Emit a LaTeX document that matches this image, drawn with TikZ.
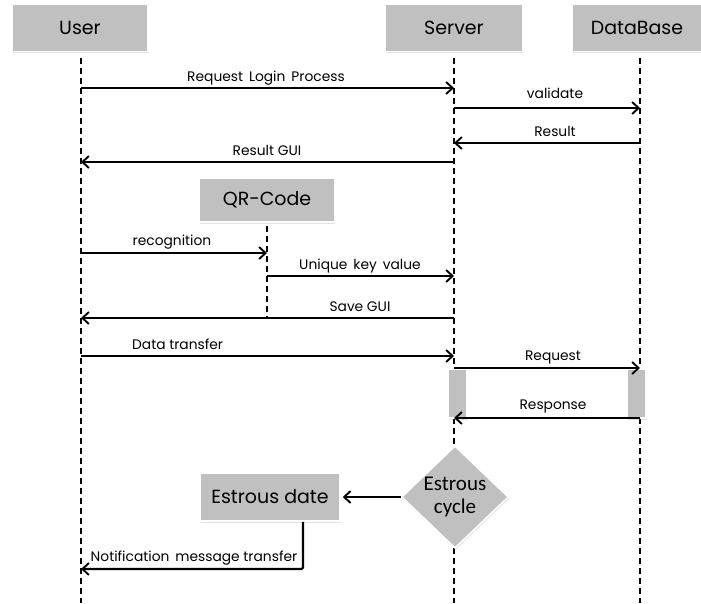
\documentclass[tikz,border=0pt]{standalone}
\usepackage{fontspec}
\setmainfont{Poppins}
\newfontfamily\calfont{Carlito}
\usetikzlibrary{arrows.meta,shapes.geometric,shadows}
\definecolor{boxgray}{RGB}{192,192,192}
\begin{document}
\begin{tikzpicture}[x=1pt,y=-1pt,
  shade box/.style={fill=boxgray, draw=white, line width=1.5pt,
    drop shadow={opacity=0.22,shadow xshift=0.8pt,shadow yshift=-1.6pt}},
  actor/.style={shade box, minimum height=47pt, inner sep=0,
    font=\fontsize{19}{21}\selectfont},
  actbar/.style={shade box, minimum width=19pt, minimum height=49pt, inner sep=0},
  life/.style={dash pattern=on 6pt off 4pt, line width=1.1pt},
  msg/.style={line width=2.1pt,
    -{Straight Barb[length=6.5pt,width=12pt,line width=1.9pt]}},
  lbl/.style={anchor=base, inner sep=0, font=\fontsize{13.8}{16}\selectfont}]
\useasboundingbox (0,0) rectangle (701,603);
\fill[white] (0,0) rectangle (701,603);

% actors
\node[actor, minimum width=136pt] (user)   at (80,28)  {User};
\node[actor, minimum width=137pt] (server) at (454,28) {Server};
\node[actor, minimum width=130pt] (db)     at (637,28) {DataBase};

% lifeline anchors
\coordinate (Lu) at (81,58);
\coordinate (Ls) at (454,58);
\coordinate (Ld) at (640,58);
\coordinate (bot) at (0,603);

\draw[life] (Lu) -- (Lu |- bot);
\draw[life] (Ls) -- (Ls |- bot);
\draw[life] (Ld) -- (Ld |- bot);

% QR code
\node[actor, minimum width=135pt, minimum height=44pt] (qr) at (267,200) {QR-Code};
\coordinate (Lq) at (267,226);
\coordinate (qend) at (0,318);
\draw[life] (Lq) -- (Lq |- qend);

% message rows
\coordinate (m1) at (0,88);
\coordinate (m2) at (0,108);
\coordinate (m3) at (0,143);
\coordinate (m4) at (0,162);
\coordinate (m5) at (0,253);
\coordinate (m6) at (0,276);
\coordinate (m7) at (0,318);
\coordinate (m8) at (0,356);
\coordinate (m9) at (0,368);
\coordinate (m10) at (0,418);

% activation bars
\node[actbar] (act1) at (457.5,393.5) {};
\node[actbar] (act2) at (636.5,393.5) {};

\draw[msg] (Lu |- m1) -- (Ls |- m1);
\node[lbl] at (266,81) {Request\, Login\, Process};

\draw[msg] (Ls |- m2) -- (Ld |- m2);
\node[lbl] at (555,98) {validate};

\draw[msg] (Ld |- m3) -- (Ls |- m3);
\node[lbl] at (555,136) {Result};

\draw[msg] (Ls |- m4) -- (Lu |- m4);
\node[lbl] at (267,155) {Result GUI};

\draw[msg] (Lu |- m5) -- (Lq |- m5);
\node[lbl] at (172,245) {recognition};

\draw[msg] (Lq |- m6) -- (Ls |- m6);
\node[lbl] at (360,269) {Unique\, key\, value};

\draw[msg] (Ls |- m7) -- (Lu |- m7);
\node[lbl] at (360,311) {Save GUI};

\draw[msg] (Lu |- m8) -- (Ls |- m8);
\node[lbl, anchor=base west] at (132,349) {Data transfer};

\draw[msg] (Ls |- m9) -- (Ld |- m9);
\node[lbl] at (553,360) {Request};

\draw[msg] (Ld |- m10) -- (Ls |- m10);
\node[lbl] at (553,409) {Response};

% estrous
\node[diamond, fill=boxgray, draw=white, line width=1.5pt,
  drop shadow={opacity=0.22,shadow xshift=0.8pt,shadow yshift=-1.6pt},
  minimum width=107pt, minimum height=101pt, inner sep=0, align=center,
  font=\calfont\fontsize{21}{23}\selectfont] (cyc) at (455,497) {Estrous\\cycle};

\node[actor, minimum width=140pt, minimum height=48pt] (edate) at (270,497) {Estrous date};

\draw[msg, shorten >=2pt] (cyc.west) -- (edate.east);

\coordinate (nt) at (303,569);
\draw[msg, rounded corners=1.5pt] (edate.south -| nt) -- (nt) -- (Lu |- nt);
\node[lbl, anchor=base] at (194,561) {Notification\, message transfer};
\end{tikzpicture}
\end{document}
